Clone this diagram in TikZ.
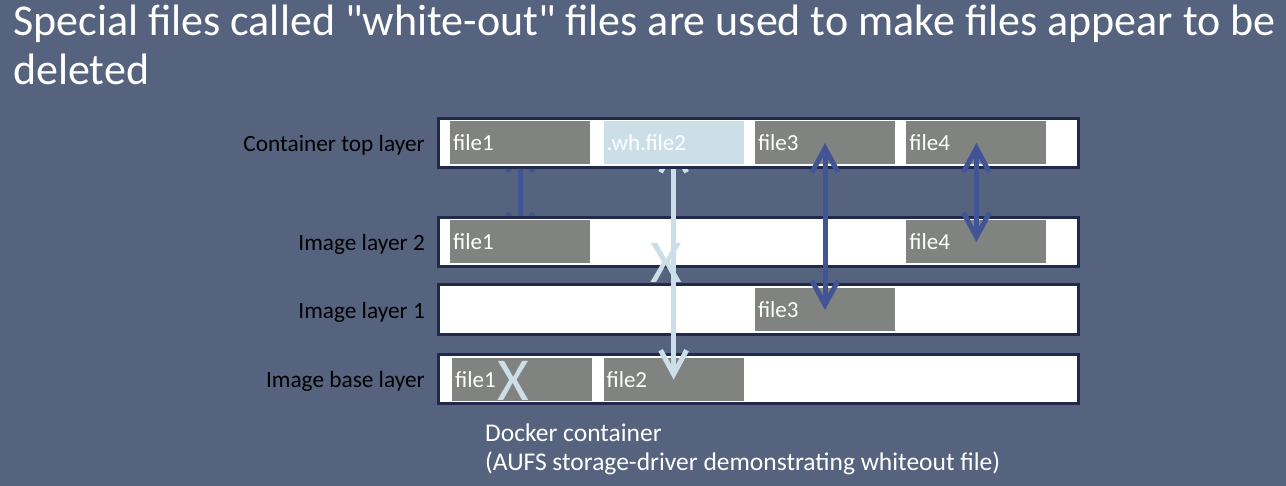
\documentclass[tikz,border=0pt]{standalone}
\usepackage{fontspec}
\setmainfont{Carlito}[Ligatures=TeXOff]
\usetikzlibrary{arrows.meta, positioning, calc}
\definecolor{slidebg}{HTML}{55637F}
\definecolor{filegrey}{HTML}{808380}
\definecolor{layeredge}{HTML}{1F2A4D}
\definecolor{linkblue}{HTML}{405496}
\definecolor{whiteout}{HTML}{CCDEE8}
\pgfdeclarelayer{bglayer}
\pgfdeclarelayer{lowlinks}
\pgfdeclarelayer{lowerlayers}
\pgfdeclarelayer{whlinks}
\pgfdeclarelayer{front}
\pgfsetlayers{bglayer,lowlinks,lowerlayers,whlinks,main,front}
\tikzset{
    layerbox/.style={rectangle, draw=layeredge, line width=3pt, fill=white, minimum width=640pt, minimum height=49pt, inner sep=0pt},
    filebox/.style={rectangle, fill=filegrey, text=white, minimum height=43pt, text width=134pt, inner sep=3pt, align=left, font=\fontsize{23}{26}\selectfont},
    layerlabel/.style={inner sep=0pt, anchor=base east, text=black, font=\fontsize{23.3}{26}\selectfont},
    linkarrow/.style={<->, >={Straight Barb[length=24pt,width=26pt]}, line width=5pt, linkblue},
    whitearrow/.style={linkarrow, whiteout},
    crossmark/.style={inner sep=0pt, text=whiteout, font=\fontsize{61}{64}\selectfont},
}

\begin{document}
\begin{tikzpicture}[x=1pt, y=-1pt,
  title/.style={anchor=north west, inner sep=0pt, text=white, align=left, font=\fontsize{44}{49}\selectfont},
  caption/.style={anchor=north west, inner sep=0pt, text=white, align=left, font=\fontsize{25.5}{28.5}\selectfont}
]
\begin{pgfonlayer}{bglayer}
\fill[slidebg] (0,0) rectangle (1286,486);
\end{pgfonlayer}
\useasboundingbox (0,0) rectangle (1286,486);

% Title
\node[title] (head) at (13,4.5) {Special files called "white-out" files are used to make files appear to be\\deleted};

% Layers
\node[layerbox] (top) at (758.5,143) {};
\begin{pgfonlayer}{lowerlayers}
\node[layerbox] (img2) at (758.5,242) {};
\node[layerbox, minimum height=50pt] (img1) at (758.5,310) {};
\node[layerbox] (base) at (758.5,379.5) {};
\end{pgfonlayer}

% Layer names
\node[layerlabel] (ltop) at ($(top.west)+(-12,8.5)$) {Container top layer};
\node[layerlabel] (limg2) at ($(img2.west)+(-12,8.5)$) {Image layer 2};
\node[layerlabel] (limg1) at ($(img1.west)+(-12,8.5)$) {Image layer 1};
\node[layerlabel] (lbase) at ($(base.west)+(-12,8.5)$) {Image base layer};

% Files in the container top layer
\node[filebox, right=13pt of top.west] (topf1) {file1};
\node[filebox, fill=whiteout, right=13pt of topf1] (topwh) {.wh.file2};
\node[filebox, right=11pt of topwh] (topf3) {file3};
\node[filebox, right=11pt of topf3] (topf4) {file4};

% Files in the image layers
\begin{pgfonlayer}{lowerlayers}
\node[filebox] (f1img2) at (topf1 |- img2) {file1};
\node[filebox] (f4img2) at (topf4 |- img2) {file4};
\node[filebox] (f3img1) at (topf3 |- img1) {file3};
\node[filebox, xshift=2pt] (f1base) at (topf1 |- base) {file1};
\node[filebox] (f2base) at (topwh |- base) {file2};
\end{pgfonlayer}

% Links between layers
\begin{pgfonlayer}{lowlinks}
\draw[linkarrow] (topf1.center) -- (f1img2.center);
\end{pgfonlayer}
\begin{pgfonlayer}{whlinks}
\draw[whitearrow] (topwh.center) -- (f2base.center);
\end{pgfonlayer}
\begin{pgfonlayer}{front}
\draw[linkarrow] (topf3.center) -- (f3img1.center);
\draw[linkarrow] (topf4.center) -- (f4img2.center);
\node[crossmark] (xwh) at (666,262.5) {X};
\node[crossmark] (xf1) at (513,380.5) {X};
\end{pgfonlayer}

% Caption
\node[caption] (note) at (485,424) {Docker container\\(AUFS storage-driver demonstrating whiteout file)};
\end{tikzpicture}
\end{document}
